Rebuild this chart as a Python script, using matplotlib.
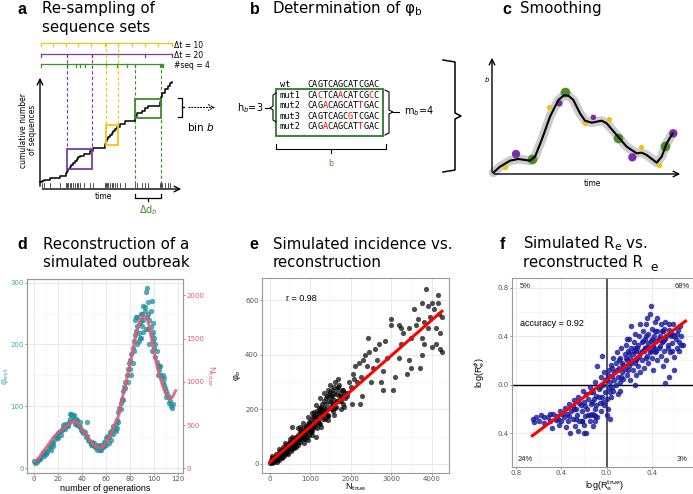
import numpy as np
import matplotlib
matplotlib.use("Agg")
import matplotlib.pyplot as plt

plt.rcParams['font.family'] = ['DejaVu Sans']
plt.rcParams['mathtext.fontset'] = 'dejavusans'

# ---------------- colours ----------------
YEL = '#f3c512'
PUR = '#7a3aa8'
GRN = '#3f8f2a'
TEAL = '#1f8c9c'
TEAL_TXT = '#3aa6b6'
PINK = '#e05a74'
NAVY = '#16169a'

# ---------------- panel a (schematic, pixel space) ----------------
a_yellow_ticks = [41, 53.3, 65.7, 78.3, 91, 105, 118.3, 131.7, 145, 158.3, 171.7]
a_purple_ticks = [41, 66.7, 92.3, 118.3, 145, 171.7]
a_green_ticks = [41, 66.7, 76, 80, 85, 106, 117.3, 126.7, 135, 160, 161.7, 163.3]
a_seq_times = [41.7, 44.3, 50, 60, 65.7, 66.7, 68.3, 70, 71, 73.3, 75, 76.7, 78.3, 80, 84.3,
               90, 93.3, 105, 106, 107.3, 108.3, 110, 111.7, 113.3, 115, 116.7, 120, 125,
               135, 136.7, 141.7, 145, 148.3, 160, 161, 162.3, 165, 168.3, 170]
a_cum_level = [181, 180, 178, 176, 173, 171, 169, 167, 165, 163, 161, 159, 157, 156, 154,
               151, 148, 144, 141, 139, 137, 135, 133, 131, 129, 127, 124, 121,
               116, 113, 111, 108, 106, 102, 97, 93, 89, 86, 83]
a_boxes = {'purple': (66.7, 91.7, 149, 169), 'yellow': (106.3, 118.3, 125, 145),
           'green': (135, 160.5, 99, 118)}
a_tick_labels = ['Δt = 10', 'Δt = 20', '#seq = 4']

# ---------------- panel b ----------------
b_names = ['wt', 'mut1', 'mut2', 'mut3', 'mut2']
b_seqs = ['CAGTCAGCATCGAC', 'CACTCAACATCGCC', 'CAGACAGCATTGAC', 'CAGTCAGCGTCGAC', 'CAGACAGCATTGAC']

# ---------------- panel c ----------------
c_curve_x = [100, 120, 150, 175, 210, 225, 245, 270, 295, 312, 325, 340, 360, 375, 395, 425,
             440, 470, 500, 530, 545, 560, 590, 605, 620, 638]
c_curve_y = [518, 500, 482, 477, 482, 470, 420, 350, 300, 286, 287, 300, 340, 362, 368, 362,
             370, 405, 440, 460, 458, 465, 488, 470, 430, 400]
c_yel_x = [135, 267, 376, 447, 543, 596]
c_yel_y = [500, 320, 370, 356, 440, 496]
c_pur_x = [168, 298, 400, 517, 640]
c_pur_y = [462, 310, 352, 472, 400]
c_pur_s = [36, 22, 16, 36, 36]
c_grn_x = [215, 315, 474, 614]
c_grn_y = [478, 276, 415, 438]

# ---------------- panel d ----------------
d_gen = list(range(0, 117)) + [44, 85, 87, 88, 89, 90, 91, 92, 93, 94, 95, 96, 97, 98, 99, 100, 84, 86,
                               82, 80, 101, 103, 105, 108, 110, 81, 89, 98, 102, 30, 32, 28, 26, 35,
                               36, 20, 22, 16, 60, 62, 64, 66, 68, 56, 50, 53, 72, 74, 76, 78, 70, 69,
                               10, 14, 24, 38, 41, 47, 58, 83, 86, 91, 95, 99, 104, 107, 112]
d_phi = [12, 8, 10, 13, 15, 14, 18, 22, 20, 25, 28, 26, 32, 35, 38, 42, 40, 47, 52, 50,
         56, 58, 54, 62, 70, 66, 64, 70, 68, 74, 80, 88, 78, 86, 72, 80, 70, 68, 74, 62,
         60, 56, 58, 50, 52, 46, 44, 40, 42, 38, 36, 34, 30, 32, 36, 30, 38, 34, 42, 40,
         48, 52, 50, 58, 56, 62, 68, 64, 72, 78, 90, 98, 105, 112, 125, 132, 140, 150, 160, 170,
         175, 185, 195, 205, 215, 222, 230, 218, 235, 240, 250, 262, 255, 285, 292, 268, 240, 228, 215, 205,
         195, 180, 172, 165, 158, 150, 148, 140, 135, 130, 125, 120, 115, 108, 100, 97, 104] + \
        [74, 245, 205, 210, 250, 230, 240, 260, 225, 245, 250, 200, 255, 270, 235, 210, 240, 200,
         170, 160, 200, 150, 165, 145, 115, 150, 210, 190, 190, 88, 85, 72, 72, 75,
         78, 48, 60, 35, 38, 40, 45, 55, 60, 30, 40, 38, 95, 110, 130, 140, 75, 65,
         22, 30, 65, 66, 60, 38, 36, 190, 245, 220, 225, 220, 165, 150, 105]
d_ntrue_gen = [1, 4, 7, 10, 13, 16, 19, 22, 25, 28, 31, 34, 37, 40, 43, 46, 49, 52, 55, 58,
               61, 64, 67, 70, 73, 76, 79, 82, 85, 88, 91, 94, 97, 100, 103, 106, 109, 112, 115, 118]
d_ntrue = [85, 120, 190, 240, 300, 360, 400, 440, 470, 500, 530, 545, 510, 450, 390, 330, 280, 245, 235, 265,
           320, 400, 500, 600, 790, 960, 1150, 1350, 1560, 1700, 1760, 1750, 1560, 1330, 1150, 1000, 880, 810, 820, 900]

# ---------------- panel e ----------------
e_n = [20, 40, 60, 80, 100, 50, 90, 120, 30, 70,
       150, 170, 200, 220, 250, 260, 280, 300, 310, 180, 240, 290,
       320, 350, 370, 400, 420, 440, 460, 480, 500, 380, 450, 490, 330,
       520, 540, 560, 580, 600, 620, 640, 660, 680, 700, 550, 610, 690,
       720, 740, 760, 780, 800, 820, 840, 860, 880, 900, 750, 830, 870,
       920, 940, 960, 980, 1000, 1020, 1040, 1060, 1080, 1100, 950, 1050, 1090,
       1120, 1140, 1160, 1180, 1200, 1220, 1240, 1260, 1280, 1300, 1150, 1250, 1270,
       1320, 1340, 1360, 1380, 1400, 1420, 1440, 1460, 1480, 1500, 1350, 1450, 1490,
       1520, 1540, 1560, 1580, 1600, 1620, 1640, 1660, 1700, 1720, 1750, 1780, 1800, 1820, 1850, 1680, 1600, 1760,
       550, 1030, 1210, 1430, 1610, 1710, 1230, 860, 640, 410,
       60, 110, 140, 160, 190, 210, 230, 270, 300, 340, 360, 390, 410, 430, 470, 510, 530, 570,
       590, 630, 650, 670, 710, 730, 770, 790, 810, 850, 890, 910, 930, 970, 990, 1010, 1030,
       1070, 1110, 1130, 1170, 1190, 1230, 1290, 1310, 1330, 1370, 1390, 1410, 1470, 1510, 1530,
       1550, 1570, 1590, 1630, 1650, 1690, 1730, 1770, 1810, 1840, 1860, 1450, 1250, 1050, 850,
       1150, 700, 950,
       1900, 1950, 2000, 2050, 2080, 2100, 2150, 2200, 2250, 2280, 2300, 2350, 2400, 2420, 2450, 2500,
       2550, 2600, 2650, 2700, 2750, 2800, 2800, 2850, 2900, 3000, 3000, 3050, 3100, 3200, 3250, 3250,
       3300, 3400, 3450, 3450, 3500, 3500, 3550, 3600, 3650, 3700, 3750, 3750, 3750, 3800, 3800, 3850,
       3900, 3950, 4000, 4000, 4050, 4100, 4100, 4150, 4150, 4200, 4200, 4250, 4250, 4180, 3900, 3200,
       2030, 2230, 1900]
e_phi = [2, 8, 3, 12, 18, 20, 5, 25, 15, 28,
         15, 30, 22, 40, 28, 45, 35, 50, 20, 8, 55, 30,
         40, 55, 35, 60, 45, 70, 50, 75, 58, 75, 35, 90, 62,
         65, 80, 55, 90, 70, 95, 75, 100, 85, 105, 100, 60, 70,
         90, 115, 80, 120, 100, 130, 95, 125, 110, 140, 135, 150, 90,
         115, 145, 105, 155, 130, 160, 120, 170, 140, 175, 170, 105, 190,
         150, 180, 130, 195, 160, 205, 145, 210, 175, 220, 215, 240, 135,
         185, 230, 165, 240, 200, 250, 180, 255, 210, 265, 260, 160, 290,
         225, 270, 195, 280, 235, 300, 210, 275, 250, 290, 230, 270, 220, 250, 240, 310, 180, 200,
         135, 125, 150, 175, 205, 230, 190, 110, 85, 55,
         10, 8, 22, 35, 18, 28, 12, 38, 25, 48, 30, 52, 68, 40, 62, 80, 48, 72,
         58, 85, 62, 90, 78, 100, 108, 90, 115, 105, 130, 100, 135, 125, 145, 115, 150,
         130, 160, 140, 170, 150, 185, 195, 165, 205, 190, 220, 175, 230, 245, 200,
         250, 220, 260, 255, 230, 280, 260, 250, 270, 210, 260, 270, 200, 185, 75,
         100, 130, 88,
         260, 300, 280, 330, 310, 360, 300, 370, 320, 250, 380, 400, 360, 460, 410, 300,
         350, 420, 380, 440, 300, 270, 340, 450, 390, 530, 510, 270, 320, 390, 500, 440,
         480, 330, 500, 380, 350, 460, 570, 510, 530, 350, 590, 460, 400, 520, 440, 640,
         500, 540, 590, 430, 570, 500, 440, 620, 590, 480, 420, 540, 410, 550, 580, 510,
         221, 221, 250]
e_fit_x = [0, 4250]
e_fit_y = [5, 560]

# ---------------- panel f ----------------
f_true = [-0.65, -0.64, -0.62, -0.6, -0.58, -0.55, -0.52, -0.5, -0.48, -0.47, -0.45,
          -0.44, -0.42, -0.41, -0.4, -0.38, -0.37, -0.36, -0.35, -0.34, -0.33, -0.32, -0.31, -0.3,
          -0.29, -0.28, -0.27, -0.26, -0.25, -0.25, -0.24, -0.23, -0.22, -0.21, -0.2, -0.2, -0.19,
          -0.18, -0.18, -0.17, -0.16, -0.15, -0.15,
          -0.14, -0.13, -0.12, -0.12, -0.11, -0.1, -0.1, -0.09, -0.08, -0.07, -0.06, -0.05, -0.05,
          -0.04, -0.03, -0.02, -0.02, -0.01, 0.0, -0.08, -0.04,
          0.0, 0.01, 0.02, 0.02, 0.03, 0.04, 0.04, 0.05, 0.06, 0.06, 0.07, 0.08, 0.08, 0.09, 0.1,
          0.1, 0.11, 0.12, 0.12, 0.13, 0.14, 0.14, 0.15, 0.03,
          0.16, 0.16, 0.17, 0.18, 0.18, 0.19, 0.2, 0.2, 0.21, 0.21, 0.22, 0.23, 0.23, 0.24, 0.25,
          0.25, 0.26, 0.26, 0.27, 0.28, 0.28, 0.29, 0.3, 0.3, 0.22, 0.18,
          0.31, 0.31, 0.32, 0.33, 0.33, 0.34, 0.35, 0.35, 0.36, 0.37, 0.37, 0.38, 0.38, 0.39, 0.4,
          0.4, 0.41, 0.41, 0.42, 0.43, 0.43, 0.44, 0.45, 0.45, 0.39, 0.36,
          0.46, 0.47, 0.48, 0.48, 0.49, 0.5, 0.51, 0.52, 0.52, 0.53, 0.54, 0.55, 0.56, 0.57, 0.58,
          0.59, 0.6, 0.61, 0.62, 0.63, 0.64, 0.65, 0.66, 0.68, 0.55, 0.5, 0.6, 0.52,
          -0.5, -0.3, -0.15, 0.05, 0.25, 0.34, 0.47, 0.58, -0.22, -0.1,
          -0.55, -0.43, -0.39, -0.33, -0.29, -0.27, -0.24, -0.22, -0.19, -0.16, -0.14, -0.13, -0.11,
          -0.09, -0.07, -0.06, -0.03, -0.01, 0.01, 0.03, 0.05, 0.07, 0.09, 0.11, 0.13, 0.15, 0.17,
          0.19, 0.2, 0.22, 0.24, 0.26, 0.27, 0.29, 0.31, 0.32, 0.34, 0.35, 0.36, 0.37, 0.39, 0.4,
          0.42, 0.43, 0.44, 0.46, 0.47, 0.49, 0.5, 0.51, 0.53, 0.54, 0.56, 0.58, 0.6, 0.62, 0.64,
          0.66, 0.3, 0.45, 0.55, -0.2, 0.0, -0.1, 0.25, 0.12]
f_est = [-0.28, -0.31, -0.27, -0.3, -0.25, -0.32, -0.27, -0.3, -0.36, -0.24, -0.29,
         -0.26, -0.33, -0.22, -0.3, -0.27, -0.19, -0.35, -0.24, -0.3, -0.16, -0.4, -0.22, -0.28,
         -0.13, -0.34, -0.2, -0.25, -0.1, -0.38, -0.3, -0.17, -0.22, -0.05, -0.33, -0.14, -0.26,
         -0.08, -0.4, -0.2, -0.12, -0.3, -0.02,
         -0.16, -0.24, -0.06, -0.34, -0.12, -0.2, 0.02, -0.09, -0.27, -0.04, -0.15, 0.06, -0.22,
         -0.1, 0.0, -0.17, 0.1, -0.06, -0.12, 0.15, 0.24,
         0.05, -0.2, 0.12, -0.03, 0.02, 0.16, -0.1, 0.07, 0.22, -0.05, 0.1, 0.0, 0.18, 0.27, 0.06,
         -0.08, 0.14, 0.22, 0.02, 0.3, 0.1, 0.18, 0.05, -0.28,
         0.25, 0.13, 0.33, 0.08, 0.2, 0.28, 0.15, 0.38, 0.22, 0.04, 0.3, 0.12, 0.25, 0.35, 0.18,
         0.42, 0.28, 0.08, 0.22, 0.33, 0.15, 0.4, 0.26, 0.1, 0.48, 0.38,
         0.35, 0.2, 0.44, 0.28, 0.14, 0.38, 0.22, 0.5, 0.31, 0.42, 0.18, 0.27, 0.58, 0.36, 0.46,
         0.22, 0.32, 0.12, 0.4, 0.52, 0.27, 0.36, 0.2, 0.44, 0.65, 0.55,
         0.3, 0.4, 0.5, 0.24, 0.35, 0.44, 0.28, 0.38, 0.52, 0.2, 0.33, 0.45, 0.27, 0.4, 0.34,
         0.5, 0.23, 0.38, 0.3, 0.45, 0.35, 0.48, 0.4, 0.33, 0.06, 0.15, 0.12, 0.01,
         -0.24, -0.18, -0.25, -0.02, 0.3, 0.3, 0.38, 0.42, -0.3, -0.26,
         -0.27, -0.28, -0.24, -0.26, -0.2, -0.28, -0.15, -0.3, -0.18, -0.25, -0.06, -0.14, -0.25,
         -0.17, -0.1, -0.02, -0.14, 0.04, 0.08, -0.06, 0.14, 0.04, 0.12, 0.2, 0.06, 0.16, 0.22,
         0.12, 0.26, 0.18, 0.28, 0.2, 0.3, 0.24, 0.28, 0.36, 0.3, 0.4, 0.24, 0.34, 0.28, 0.38,
         0.3, 0.44, 0.28, 0.38, 0.32, 0.44, 0.36, 0.46, 0.4, 0.3, 0.42, 0.28, 0.4, 0.42, 0.28,
         0.33, 0.5, 0.55, 0.5, -0.4, -0.25, -0.3, 0.0, -0.05]
f_fit_x = [-0.656, 0.698]
f_fit_y = [-0.422, 0.524]
f_quadrant_text = ['5%', '68%', '24%', '3%']
f_xticks = [-0.8, -0.4, 0.0, 0.4]
f_xtick_labels = ['0.8', '0.4', '0.0', '0.4']
f_yticks = [-0.4, 0.0, 0.4, 0.8]
f_ytick_labels = ['0.4', '0.0', '0.4', '0.8']

# ================= figure =================
W, H = 693, 494
fig = plt.figure(figsize=(W / 100, H / 100), dpi=100)
ov = fig.add_axes([0, 0, 1, 1])
ov.set_xlim(0, W)
ov.set_ylim(H, 0)
ov.axis('off')
ov.set_zorder(5)

TF = 10.8  # title size


def title(letter, lx, tx, lines, base):
    ov.text(lx, base, letter, fontsize=11.5, fontweight='bold', family='Liberation Sans', va='baseline')
    for i, ln in enumerate(lines):
        ov.text(tx, base + i * 18.5, ln, fontsize=TF, va='baseline')


title('a', 17, 42, ['Re-sampling of', 'sequence sets'], 13.5)
title('b', 250, 272, ['Determination of φ$_{\\rm b}$'], 13.5)
title('c', 502, 520, ['Smoothing'], 13.5)
title('d', 17, 43, ['Reconstruction of a', 'simulated outbreak'], 248.5)
title('e', 249, 273, ['Simulated incidence vs.', 'reconstruction'], 248.5)
title('f', 500, 523, ['Simulated R$_{\\rm e}$ vs.', 'reconstructed R'], 248.5)
ov.text(650, 271, 'e', fontsize=TF * 0.8, va='baseline')

# ---- panel a ----
for yy, ticks, col, lab in [(43, a_yellow_ticks, YEL, a_tick_labels[0]),
                            (53.7, a_purple_ticks, PUR, a_tick_labels[1]),
                            (63.7, a_green_ticks, GRN, a_tick_labels[2])]:
    ov.plot([ticks[0], ticks[-1]], [yy, yy], color=col, lw=0.9)
    for t in ticks:
        ov.plot([t, t], [yy, yy + 3], color=col, lw=0.9)
    ov.text(174, yy + 2, lab, fontsize=5.5, va='center')

sx = [40] + a_seq_times + [172]
sy = [182] + a_cum_level + [82]
ov.plot(sx, sy, drawstyle='steps-post', color='black', lw=1.1, zorder=4)
for t in a_seq_times:
    ov.plot([t, t], [183, 187.5], color='black', lw=0.5)
ov.annotate('', xy=(40, 75), xytext=(40, 189), arrowprops=dict(arrowstyle='->', lw=1, color='black'))
ov.annotate('', xy=(184, 189), xytext=(39.5, 189), arrowprops=dict(arrowstyle='->', lw=1, color='black'))

bcols = {'purple': PUR, 'yellow': YEL, 'green': GRN}
btop = {'purple': 53.7, 'yellow': 43, 'green': 63.7}
for k, (x0, x1, y0, y1) in a_boxes.items():
    c = bcols[k]
    ov.add_patch(plt.Rectangle((x0, y0), x1 - x0, y1 - y0, fill=False, ec=c, lw=1.3, zorder=5))
    yend = 186 if k == 'green' else y0
    for xx in (x0, x1):
        ov.plot([xx, xx], [btop[k], yend], color=c, lw=0.8, ls=(0, (3, 2)), zorder=3)

ov.plot([178, 182, 182, 178], [98, 98, 117, 117], color='black', lw=0.9)
ov.plot([182, 184], [107.5, 107.5], color='black', lw=0.9)
ov.annotate('', xy=(218, 107.5), xytext=(186, 107.5),
            arrowprops=dict(arrowstyle='->', lw=0.8, ls=':', color='black'))
ov.text(187, 131, 'bin $b$', fontsize=7.5, va='baseline')
ov.text(103, 199, 'time', fontsize=5.5, ha='center', va='baseline')
ov.text(28, 130, 'cumulative number\nof sequences', fontsize=5.5, rotation=90, ha='center', va='center',
        linespacing=1.1)
ov.plot([135, 135, 161, 161], [194, 198, 198, 194], color='black', lw=0.9)
ov.plot([148, 148], [198, 201], color='black', lw=0.9)
ov.text(148, 213, 'Δd$_b$', fontsize=7, color=GRN, ha='center', va='baseline')

# ---- panel b ----
cw = 5.12
for i, (nm, sq) in enumerate(zip(b_names, b_seqs)):
    yy = 87 + i * 10.6
    ov.text(280, yy, nm, fontsize=6.2, family='DejaVu Sans Mono', va='baseline')
    for j, ch in enumerate(sq):
        col = 'red' if (i > 0 and ch != b_seqs[0][j]) else 'black'
        ov.text(307 + j * cw, yy, ch, fontsize=6.2, family='DejaVu Sans Mono', va='baseline', color=col)
ov.add_patch(plt.Rectangle((276, 89), 107, 47, fill=False, ec='#2a7a2a', lw=1.3))
ov.plot([276, 273, 273, 270, 273, 273, 276], [93, 95, 106, 108, 110, 120, 122], color='black', lw=0.8)
ov.plot([265, 270], [108, 108], color='black', lw=0.8)
ov.text(237, 111, 'h$_b$=3', fontsize=7, va='baseline')
ov.plot([385, 389, 389, 393, 389, 389, 385], [90, 92, 110, 112, 114, 133, 135], color='black', lw=0.8)
ov.plot([393, 399], [112, 112], color='black', lw=0.8)
ov.text(404, 114, 'm$_b$=4', fontsize=7, va='baseline')
ov.plot([276, 276, 386, 386], [144, 149, 149, 144], color='black', lw=0.8)
ov.plot([331, 331], [149, 153], color='black', lw=0.8)
ov.text(331, 166, 'b', fontsize=5.5, color=GRN, ha='center', va='baseline')
ov.plot([443, 455, 455, 461, 455, 455, 443], [60, 62, 113, 116, 119, 170, 172], color='black', lw=1.1)

# ---- panel c ----
cx = [460 + v / 3 for v in c_curve_x]
cy = [v / 3 for v in c_curve_y]
ov.plot(cx, cy, color='#cccccc', lw=6.5, solid_capstyle='round', solid_joinstyle='round', zorder=2)
ov.plot(cx, cy, color='black', lw=1.5, solid_joinstyle='round', zorder=4)
ov.scatter([460 + v / 3 for v in c_yel_x], [v / 3 for v in c_yel_y], s=14, color='#f5be10', zorder=3, lw=0)
ov.scatter([460 + v / 3 for v in c_pur_x], [v / 3 for v in c_pur_y], s=c_pur_s, color='#7a2fa8', zorder=3, lw=0)
ov.scatter([460 + v / 3 for v in c_grn_x], [v / 3 for v in c_grn_y], s=48, color='#4c8a2c', zorder=3, lw=0)
ov.annotate('', xy=(492, 55), xytext=(492, 174.5), arrowprops=dict(arrowstyle='->', lw=1, color='black'))
ov.annotate('', xy=(683, 174), xytext=(491.5, 174), arrowprops=dict(arrowstyle='->', lw=1, color='black'))
ov.text(487, 82, '$b$', fontsize=5, ha='center', va='baseline')
ov.text(592, 186, 'time', fontsize=5.5, ha='center', va='baseline')


# ================= ggplot-like panels =================
def gg(ax):
    ax.set_facecolor('white')
    for s in ax.spines.values():
        s.set_color('#9a9a9a')
        s.set_linewidth(0.8)
    ax.grid(True, which='major', color='#e6e6e6', lw=0.6)
    ax.grid(True, which='minor', color='#f2f2f2', lw=0.4)
    ax.set_axisbelow(True)
    ax.tick_params(which='major', length=1.5, width=0.5, color='#666666', labelsize=5,
                   labelcolor='#555555', pad=1.0)
    ax.tick_params(which='minor', length=0)


def fpos(x0, x1, y0, y1):
    return [x0 / W, 1 - y1 / H, (x1 - x0) / W, (y1 - y0) / H]


LBL = dict(family='Liberation Sans', fontsize=6.5)

# ---- panel d ----
axd = fig.add_axes(fpos(27, 183, 279, 473))
gg(axd)
axd.scatter(d_gen, d_phi, s=15, color=TEAL, alpha=0.75, lw=0, zorder=2)
axd.set_xticks([0, 20, 40, 60, 80, 100, 120])
axd.set_xticks([10, 30, 50, 70, 90, 110], minor=True)
axd.set_yticks([0, 100, 200, 300])
axd.set_yticks([50, 150, 250], minor=True)
axd.set_xlim(-6, 124)
axd.set_ylim(-8, 306)
axd.tick_params(axis='y', labelcolor=TEAL_TXT)
axd.set_xlabel('number of generations', **LBL)
axd.set_ylabel('φ$_{\\rm est}$', color=TEAL_TXT, **LBL)
axd.xaxis.set_label_coords(0.5, -0.058)
axd.yaxis.set_label_coords(-0.1, 0.5)
axd2 = axd.twinx()
axd2.plot(d_ntrue_gen, d_ntrue, color=PINK, lw=2.2, alpha=0.85, solid_capstyle='round', zorder=3)
axd2.set_yticks([0, 500, 1000, 1500, 2000])
axd2.set_ylim(-54, 2189)
axd2.tick_params(axis='y', length=1.5, width=0.5, color='#666666', labelsize=5, labelcolor=PINK, pad=1.0)
for s in axd2.spines.values():
    s.set_color('#9a9a9a')
    s.set_linewidth(0.8)
axd2.set_ylabel('N$_{\\rm true}$', color=PINK, rotation=270, labelpad=9, **LBL)

# ---- panel e ----
axe = fig.add_axes(fpos(262, 449, 278, 473))
gg(axe)
axe.scatter(e_n, e_phi, s=14, color='black', alpha=0.7, lw=0, zorder=2)
axe.plot(e_fit_x, e_fit_y, color='#ff0000', lw=2.2, zorder=3)
axe.set_xticks([0, 1000, 2000, 3000, 4000])
axe.set_xticks([500, 1500, 2500, 3500], minor=True)
axe.set_yticks([0, 200, 400, 600])
axe.set_yticks([100, 300, 500], minor=True)
axe.set_xlim(-189, 4426)
axe.set_ylim(-34, 682)
axe.text(400, 608, 'r = 0.98', fontsize=6.5, family='Liberation Sans', va='center')
axe.set_xlabel('N$_{\\rm true}$', **LBL)
axe.set_ylabel('φ$_{\\rm b}$', **LBL)
axe.xaxis.set_label_coords(0.5, -0.045)
axe.yaxis.set_label_coords(-0.1, 0.5)

# ---- panel f ----
axf = fig.add_axes(fpos(512, 697, 278, 467))
gg(axf)
axf.axhline(0, color='black', lw=1.0, zorder=1)
axf.axvline(0, color='#555555', lw=1.4, zorder=1)
axf.scatter(f_true, f_est, s=16, color=NAVY, alpha=0.8, lw=0, zorder=2)
axf.plot(f_fit_x, f_fit_y, color='#ff0000', lw=2.2, zorder=3)
axf.set_xticks(f_xticks)
axf.set_xticklabels(f_xtick_labels)
axf.set_xticks([-0.6, -0.2, 0.2, 0.6], minor=True)
axf.set_yticks(f_yticks)
axf.set_yticklabels(f_ytick_labels)
axf.set_yticks([-0.6, -0.2, 0.2, 0.6], minor=True)
axf.set_xlim(-0.836, 0.80)
axf.set_ylim(-0.68, 0.88)
qx = [-0.716, 0.668, -0.716, 0.668]
qy = [0.808, 0.808, -0.615, -0.615]
for t, xx, yy in zip(f_quadrant_text, qx, qy):
    axf.text(xx, yy, t, fontsize=5.5, family='Liberation Sans', ha='center', va='center', color='#222222')
axf.text(-0.767, 0.502, 'accuracy = 0.92', fontsize=6.5, family='Liberation Sans', va='center')
axf.set_xlabel('log(R$_{\\rm e}^{\\rm true}$)', **LBL)
axf.set_ylabel('log(R$_{\\rm e}^{\\phi}$)', **LBL)
axf.xaxis.set_label_coords(0.5, -0.06)
axf.yaxis.set_label_coords(-0.135, 0.5)

fig.savefig('out.png', dpi=100)
